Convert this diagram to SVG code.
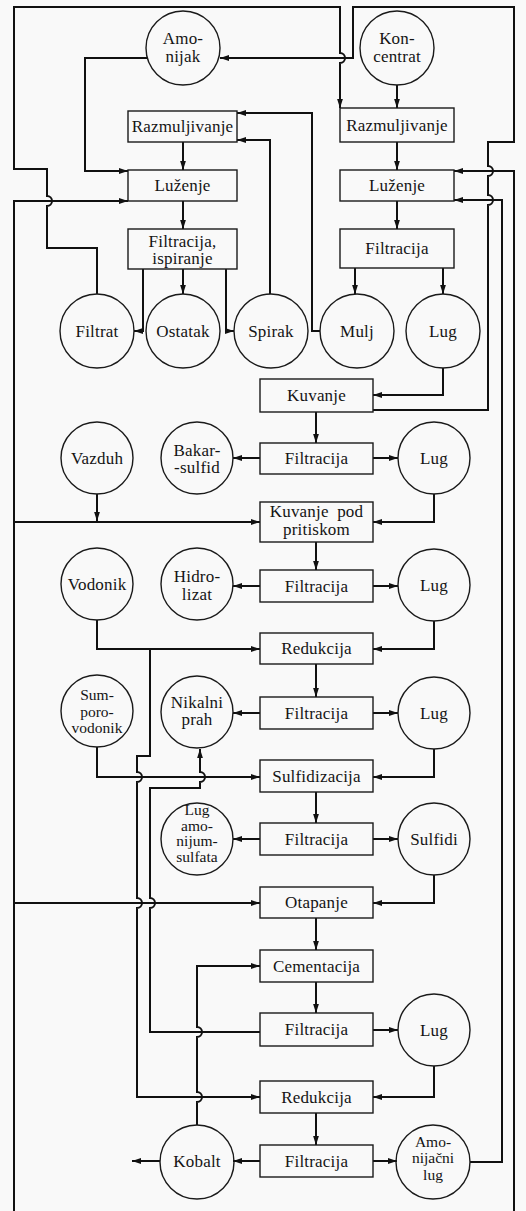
<svg xmlns="http://www.w3.org/2000/svg" width="526" height="1211" viewBox="0 0 526 1211">
  <style>
    .box { fill: none; stroke: #1a1a1a; stroke-width: 1.4; }
    .ring { fill: none; stroke: #1a1a1a; stroke-width: 1.4; }
    .c { fill: none; stroke: #111; stroke-width: 2; }
    .a { marker-end: url(#ah); }
    text { font-family: "Liberation Serif", "Times New Roman", serif; font-size: 17px; fill: #141414; text-anchor: middle; letter-spacing: 0.2px; }
    .sm { font-size: 15.5px; letter-spacing: 0; }
  </style>
  <defs>
    <marker id="ah" markerWidth="9" markerHeight="7" refX="9" refY="3.5" orient="auto" markerUnits="userSpaceOnUse">
      <path d="M0,0.6 L9,3.5 L0,6.4 z" fill="#111"/>
    </marker>
  </defs>
  <rect width="526" height="1211" fill="#f9f9f9"/>

  <!-- connectors -->
  <g id="connectors">
    <!-- upper section -->
    <path class="c a" d="M397,85 V108"/>
    <path class="c a" d="M397,142 V170"/>
    <path class="c a" d="M397,201 V229"/>
    <path class="c a" d="M355,268 V294"/>
    <path class="c a" d="M443,268 V294"/>
    <path class="c a" d="M443,368 V395 H373"/>
    <path class="c a" d="M373,410 H488 V205 A5,5 0 0 0 488,195 V176 A5,5 0 0 0 488,166 V142 H514 V7 H353 V58 H220"/>
    <path class="c a" d="M97,294 V248 H47 V206 A5,5 0 0 0 47,196 V169 H14 V7 H340 V53 A5,5 0 0 1 340,63 V108"/>
    <path class="c a" d="M147,58 H85 V171 H128"/>
    <path class="c a" d="M14,1211 V201 H128"/>
    <path class="c a" d="M14,522 H260"/>
    <path class="c a" d="M14,903 H260"/>
    <path class="c a" d="M97,494 V521"/>
    <path class="c a" d="M514,1211 V171 H454"/>
    <path class="c a" d="M470,1162 H502 V200 H454"/>
    <path class="c a" d="M183,142 V170"/>
    <path class="c a" d="M183,201 V229"/>
    <path class="c a" d="M143,269 V331 H134"/>
    <path class="c a" d="M183,269 V294"/>
    <path class="c a" d="M226,269 V331 H234"/>
    <path class="c a" d="M270,294 V140 H237"/>
    <path class="c a" d="M320,331 H312 V113 H237"/>

    <!-- main column -->
    <path class="c a" d="M316,412 V443"/>
    <path class="c a" d="M260,458 H233"/>
    <path class="c a" d="M373,458 H398"/>
    <path class="c a" d="M434,494 V522 H373"/>
    <path class="c a" d="M316,542 V570"/>
    <path class="c a" d="M260,586 H233"/>
    <path class="c a" d="M373,586 H398"/>
    <path class="c a" d="M434,621 V649 H373"/>
    <path class="c a" d="M97,620 V649 H260"/>
    <path class="c a" d="M316,664 V697"/>
    <path class="c a" d="M260,713 H233"/>
    <path class="c a" d="M373,713 H398"/>
    <path class="c a" d="M434,749 V777 H373"/>
    <path class="c a" d="M97,747 V777 H260"/>
    <path class="c a" d="M316,792 V823"/>
    <path class="c a" d="M260,839 H233"/>
    <path class="c a" d="M373,839 H398"/>
    <path class="c a" d="M434,875 V903 H373"/>
    <path class="c a" d="M316,918 V950"/>
    <path class="c a" d="M316,982 V1013"/>
    <path class="c a" d="M373,1030 H398"/>
    <path class="c a" d="M434,1066 V1097 H373"/>
    <path class="c a" d="M316,1113 V1145"/>
    <path class="c a" d="M260,1161 H233"/>
    <path class="c a" d="M373,1161 H397"/>
    <path class="c a" d="M160,1161 H132"/>

    <!-- hydrogen to second reduction -->
    <path class="c a" d="M150,649 V756 H137 V772 A5,5 0 0 1 137,782 V898 A5,5 0 0 1 137,908 V1097 H260"/>
    <!-- nickel powder return -->
    <path class="c a" d="M260,1032 H150 V908 A5,5 0 0 0 150,898 V788 H200 V782 A5,5 0 0 0 200,772 V749"/>
    <!-- cobalt to cementation -->
    <path class="c a" d="M197,1125 V1102 A5,5 0 0 0 197,1092 V1037 A5,5 0 0 0 197,1027 V966 H260"/>
  </g>

  <!-- top inputs -->
  <g id="amonijak"><circle class="ring" cx="183" cy="48" r="37"/><text x="183" y="44">Amo-</text><text x="183" y="62">nijak</text></g>
  <g id="koncentrat"><circle class="ring" cx="397" cy="48" r="37"/><text x="397" y="44">Kon-</text><text x="397" y="62">centrat</text></g>

  <!-- left branch -->
  <g id="razmuljivanje-l"><rect class="box" x="128" y="111" width="109" height="31"/><text x="182.5" y="132">Razmuljivanje</text></g>
  <g id="luzenje-l"><rect class="box" x="128" y="170" width="109" height="31"/><text x="182.5" y="191">Luženje</text></g>
  <g id="filtracija-ispiranje"><rect class="box" x="128" y="229" width="109" height="40"/><text x="182.5" y="247">Filtracija,</text><text x="182.5" y="264">ispiranje</text></g>

  <!-- right branch -->
  <g id="razmuljivanje-r"><rect class="box" x="340" y="108" width="114" height="34"/><text x="397" y="131">Razmuljivanje</text></g>
  <g id="luzenje-r"><rect class="box" x="340" y="170" width="114" height="31"/><text x="397" y="191">Luženje</text></g>
  <g id="filtracija-r"><rect class="box" x="340" y="229" width="114" height="39"/><text x="397" y="254">Filtracija</text></g>

  <!-- products of first stage -->
  <g id="filtrat"><circle class="ring" cx="97" cy="331" r="37"/><text x="97" y="337">Filtrat</text></g>
  <g id="ostatak"><circle class="ring" cx="183" cy="331" r="37"/><text x="183" y="337">Ostatak</text></g>
  <g id="spirak"><circle class="ring" cx="271" cy="331" r="37"/><text x="271" y="337">Spirak</text></g>
  <g id="mulj"><circle class="ring" cx="357" cy="331" r="37"/><text x="357" y="337">Mulj</text></g>
  <g id="lug-1"><circle class="ring" cx="443" cy="331" r="37"/><text x="443" y="337">Lug</text></g>

  <!-- main column -->
  <g id="kuvanje"><rect class="box" x="260" y="379" width="113" height="33"/><text x="316.5" y="401">Kuvanje</text></g>
  <g id="filtracija-2"><rect class="box" x="260" y="443" width="113" height="31"/><text x="316.5" y="464">Filtracija</text></g>
  <g id="vazduh"><circle class="ring" cx="97" cy="458" r="36"/><text x="97" y="464">Vazduh</text></g>
  <g id="bakar-sulfid"><circle class="ring" cx="197" cy="458" r="36"/><text x="197" y="456">Bakar-</text><text x="197" y="473">-sulfid</text></g>
  <g id="lug-2"><circle class="ring" cx="434" cy="458" r="36"/><text x="434" y="464">Lug</text></g>

  <g id="kuvanje-pod-pritiskom"><rect class="box" x="260" y="502" width="113" height="40"/><text x="316.5" y="517" word-spacing="4">Kuvanje pod</text><text x="316.5" y="535">pritiskom</text></g>
  <g id="filtracija-3"><rect class="box" x="260" y="570" width="113" height="32"/><text x="316.5" y="592">Filtracija</text></g>
  <g id="vodonik"><circle class="ring" cx="97" cy="584" r="36"/><text x="97" y="590">Vodonik</text></g>
  <g id="hidrolizat"><circle class="ring" cx="197" cy="584" r="36"/><text x="197" y="582">Hidro-</text><text x="197" y="600">lizat</text></g>
  <g id="lug-3"><circle class="ring" cx="434" cy="585" r="36"/><text x="434" y="591">Lug</text></g>

  <g id="redukcija-1"><rect class="box" x="260" y="633" width="113" height="31"/><text x="316.5" y="654">Redukcija</text></g>
  <g id="filtracija-4"><rect class="box" x="260" y="697" width="113" height="32"/><text x="316.5" y="719">Filtracija</text></g>
  <g id="sumporovodonik"><circle class="ring" cx="97" cy="711" r="36"/><text class="sm" x="97" y="700">Sum-</text><text class="sm" x="97" y="717">poro-</text><text class="sm" x="97" y="733">vodonik</text></g>
  <g id="nikalni-prah"><circle class="ring" cx="197" cy="712" r="36"/><text x="197" y="708">Nikalni</text><text x="197" y="725">prah</text></g>
  <g id="lug-4"><circle class="ring" cx="434" cy="713" r="36"/><text x="434" y="719">Lug</text></g>

  <g id="sulfidizacija"><rect class="box" x="260" y="760" width="113" height="32"/><text x="316.5" y="782">Sulfidizacija</text></g>
  <g id="filtracija-5"><rect class="box" x="260" y="823" width="113" height="32"/><text x="316.5" y="845">Filtracija</text></g>
  <g id="lug-amonijum-sulfata"><circle class="ring" cx="197" cy="839" r="36"/><text class="sm" x="197" y="815">Lug</text><text class="sm" x="197" y="831">amo-</text><text class="sm" x="197" y="846">nijum-</text><text class="sm" x="197" y="862">sulfata</text></g>
  <g id="sulfidi"><circle class="ring" cx="434" cy="839" r="36"/><text x="434" y="845">Sulfidi</text></g>

  <g id="otapanje"><rect class="box" x="260" y="887" width="113" height="31"/><text x="316.5" y="908">Otapanje</text></g>
  <g id="cementacija"><rect class="box" x="260" y="950" width="113" height="32"/><text x="316.5" y="972">Cementacija</text></g>
  <g id="filtracija-6"><rect class="box" x="260" y="1013" width="113" height="33"/><text x="316.5" y="1035">Filtracija</text></g>
  <g id="lug-5"><circle class="ring" cx="434" cy="1030" r="36"/><text x="434" y="1036">Lug</text></g>

  <g id="redukcija-2"><rect class="box" x="260" y="1081" width="113" height="32"/><text x="316.5" y="1103">Redukcija</text></g>
  <g id="filtracija-7"><rect class="box" x="260" y="1145" width="113" height="32"/><text x="316.5" y="1167">Filtracija</text></g>
  <g id="kobalt"><circle class="ring" cx="197" cy="1162" r="37"/><text x="197" y="1167">Kobalt</text></g>
  <g id="amonijacni-lug"><circle class="ring" cx="433" cy="1162" r="37"/><text class="sm" x="433" y="1147">Amo-</text><text class="sm" x="433" y="1163">nijačni</text><text class="sm" x="433" y="1180">lug</text></g>
</svg>
